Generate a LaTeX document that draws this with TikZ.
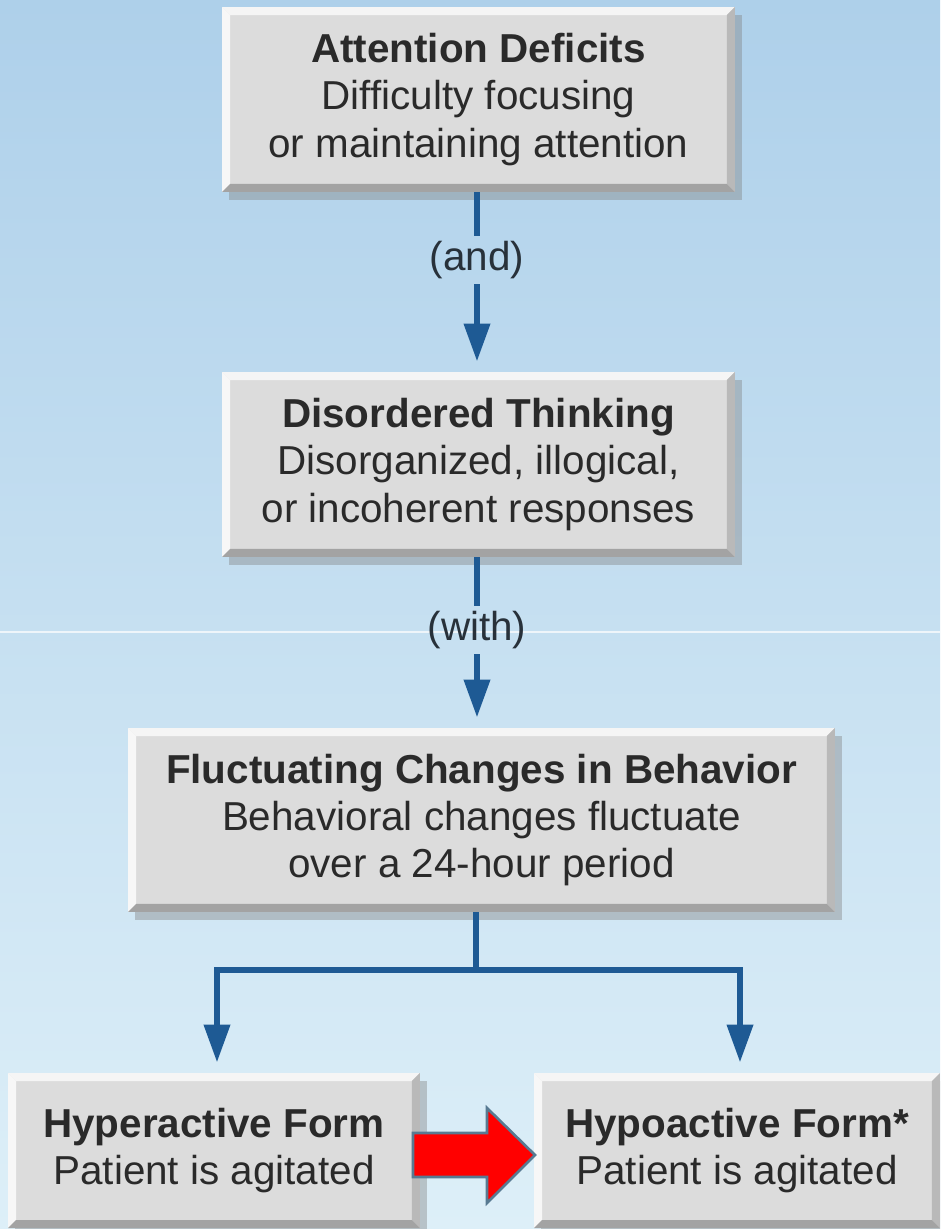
\documentclass[tikz,border=0pt]{standalone}
\usepackage{color}
\usepackage{fontspec}
\setmainfont{Liberation Sans}
\usepackage{tikz}
\usetikzlibrary{arrows.meta,shadows}

\definecolor{bgtop}{HTML}{AED0EA}
\definecolor{bgbot}{HTML}{DDEFF8}
\definecolor{boxface}{HTML}{DCDCDC}
\definecolor{linkblue}{HTML}{1E5A94}
\definecolor{txtgray}{HTML}{2A2A2A}
\definecolor{arrowrim}{HTML}{587A92}

\def\bevw{0.16cm}

\tikzset{
	box/.style={fill=boxface, text=txtgray, align=center, inner sep=0pt,
		font=\fontsize{23}{27}\selectfont,
		drop shadow={shadow xshift=0.14cm, shadow yshift=-0.16cm, opacity=.4},
		path picture={
			\path (path picture bounding box.south west) coordinate (bsw)
				(path picture bounding box.north east) coordinate (bne)
				(bsw |- bne) coordinate (bnw) (bne |- bsw) coordinate (bse);
			\fill[white!92!gray] (bnw) -- (bne) -- ([shift={(-\bevw,-\bevw)}]bne) -- ([shift={(\bevw,-\bevw)}]bnw) -- cycle;
			\fill[gray!6] (bnw) -- ([shift={(\bevw,-\bevw)}]bnw) -- ([shift={(\bevw,\bevw)}]bsw) -- (bsw) -- cycle;
			\fill[gray!55] (bne) -- (bse) -- ([shift={(-\bevw,\bevw)}]bse) -- ([shift={(-\bevw,-\bevw)}]bne) -- cycle;
			\fill[gray!72] (bsw) -- (bse) -- ([shift={(-\bevw,\bevw)}]bse) -- ([shift={(\bevw,\bevw)}]bsw) -- cycle;
		}},
	link/.style={draw=linkblue, line width=3.8pt},
	tip/.style={-{Triangle[length=0.76cm,width=0.5cm]}, shorten >=0.2cm},
	joiner/.style={text=txtgray!85!linkblue, font=\fontsize{23}{27}\selectfont, inner sep=3pt},
}

\begin{document}
\begin{tikzpicture}[x=0.02cm,y=-0.02cm]

	\useasboundingbox (0,0) rectangle (940,1229);
	\clip (0,0) rectangle (940,1229);
	\fill[top color=bgtop, bottom color=bgbot] (0,0) rectangle (940,1229);
	\draw[white, opacity=.7, line width=0.6pt] (0,632) -- (940,632);

	\node[box, minimum width=10.26cm, minimum height=3.7cm] (attn) at (478.5,99.5)
		{\textbf{Attention Deficits}\\Difficulty focusing\\or maintaining attention};
	\node[box, minimum width=10.26cm, minimum height=3.7cm] (think) at (478.5,464.5)
		{\textbf{Disordered Thinking}\\Disorganized, illogical,\\or incoherent responses};
	\node[box, minimum width=14.14cm, minimum height=3.68cm] (behav) at (481.5,820)
		{\textbf{Fluctuating Changes in Behavior}\\Behavioral changes fluctuate\\over a 24-hour period};
	\node[box, minimum width=8.24cm, minimum height=3.1cm] (hyper) at (214,1150.5)
		{\textbf{Hyperactive Form}\\Patient is agitated};
	\node[box, minimum width=8.12cm, minimum height=3.1cm] (hypo) at (737,1150.5)
		{\textbf{Hypoactive Form*}\\Patient is agitated};

	\node[joiner] (and) at (477,260) {(and)};
	\node[joiner] (with) at (477,630) {(with)};
	\coordinate (split) at (476,970);

	\draw[link] (and |- attn.south) -- (and);
	\draw[link,tip] (and) -- (and |- think.north);
	\draw[link] (with |- think.south) -- (with);
	\draw[link,tip] (with) -- (with |- behav.north);
	\draw[link] (split |- behav.south) -- (split);
	\draw[link,tip] (split) -| ([xshift=0.06cm]hyper.north);
	\draw[link,tip] (split) -| ([xshift=0.06cm]hypo.north);

	% red block arrow
	\draw[fill=red, draw=arrowrim, line width=1.5pt, line join=miter]
		(413,1133) -- (487,1133) -- (487,1108) -- (535,1155) -- (487,1203) -- (487,1177) -- (413,1177) -- cycle;

\end{tikzpicture}
\end{document}
